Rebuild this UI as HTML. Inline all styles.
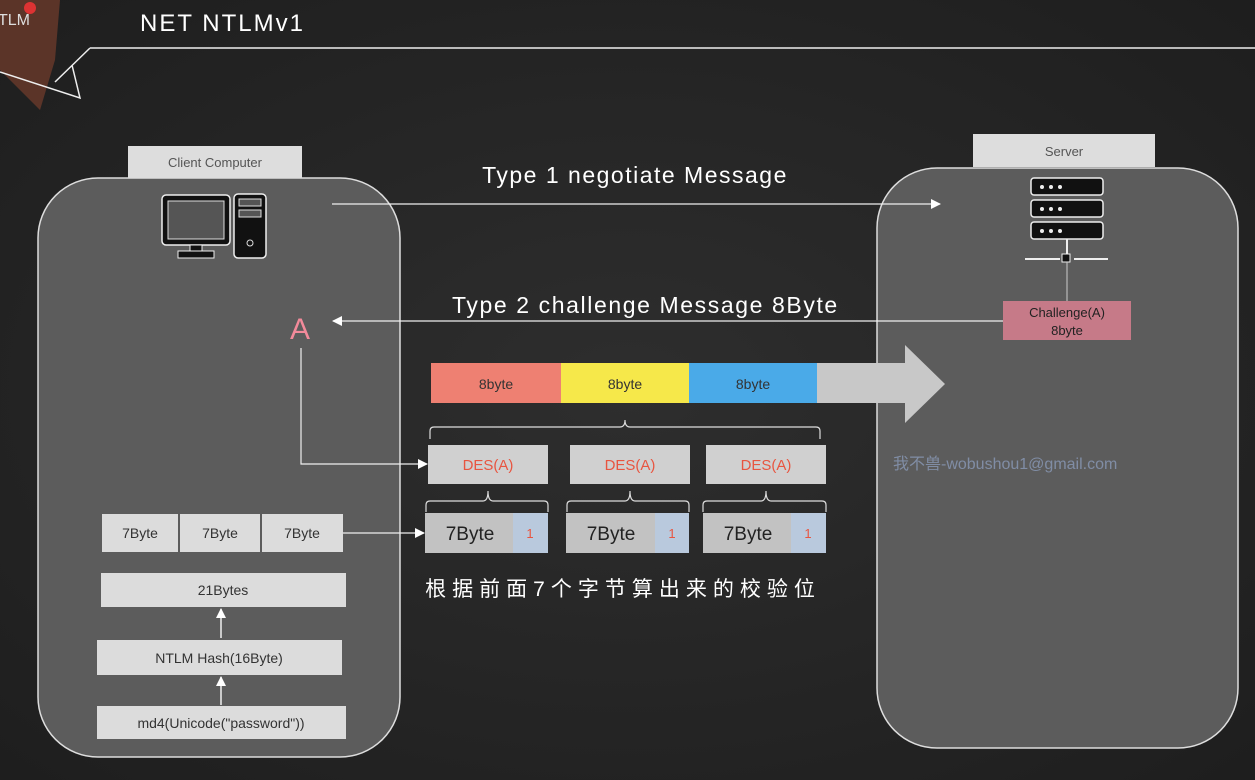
<!DOCTYPE html>
<html><head><meta charset="utf-8"><style>
body{margin:0;width:1255px;height:780px;overflow:hidden;background:#262626;}
svg{display:block}
text{font-family:"Liberation Sans","Noto Sans CJK SC",sans-serif;}
</style></head><body>
<svg width="1255" height="780" viewBox="0 0 1255 780">
<defs>
<radialGradient id="bg" cx="50%" cy="50%" r="70%"><stop offset="0" stop-color="#2e2e2e"/><stop offset="1" stop-color="#1e1e1e"/></radialGradient>
<marker id="ah" markerWidth="10" markerHeight="10" refX="9" refY="5" orient="auto" markerUnits="userSpaceOnUse"><path d="M0,0 L10,5 L0,10 z" fill="#fff"/></marker>
</defs>
<rect width="1255" height="780" fill="url(#bg)"/>
<path d="M0,0 L60,0 L55,60 L40,110 L20,90 L0,70 z" fill="#6a3a2a" opacity="0.8"/>
<circle cx="30" cy="8" r="6" fill="#d33"/>
<text x="-2" y="25" fill="#ddd" font-size="16">TLM</text>
<text x="140" y="31" fill="#fff" font-size="24" letter-spacing="2">NET NTLMv1</text>
<path d="M90,48 L1255,48 M90,48 L55,82 M0,72 L80,98 L72,65" stroke="#eee" stroke-width="1.5" fill="none"/>
<rect x="128" y="146" width="174" height="32" fill="#ddd"/>
<text x="215" y="167" fill="#555" font-size="13" text-anchor="middle">Client Computer</text>
<rect x="38" y="178" width="362" height="579" rx="60" fill="#5c5c5c" stroke="#ddd" stroke-width="1.5"/>
<rect x="973" y="134" width="182" height="33" fill="#ddd"/>
<text x="1064" y="156" fill="#555" font-size="13" text-anchor="middle">Server</text>
<rect x="877" y="168" width="361" height="580" rx="60" fill="#5c5c5c" stroke="#ddd" stroke-width="1.5"/>
<rect x="162" y="195" width="68" height="50" rx="4" fill="#111" stroke="#eee" stroke-width="1.5"/>
<rect x="168" y="201" width="56" height="38" fill="#555" stroke="#ddd"/>
<rect x="190" y="245" width="12" height="8" fill="#111" stroke="#eee"/>
<rect x="178" y="251" width="36" height="7" fill="#111" stroke="#eee"/>
<rect x="234" y="194" width="32" height="64" rx="4" fill="#111" stroke="#eee" stroke-width="1.5"/>
<rect x="239" y="199" width="22" height="7" fill="#555" stroke="#ddd"/>
<rect x="239" y="210" width="22" height="7" fill="#555" stroke="#ddd"/>
<circle cx="250" cy="243" r="3" fill="#111" stroke="#ddd"/>
<g fill="#111" stroke="#eee" stroke-width="1.5">
<rect x="1031" y="178" width="72" height="17" rx="3"/><rect x="1031" y="200" width="72" height="17" rx="3"/><rect x="1031" y="222" width="72" height="17" rx="3"/>
</g>
<g fill="#eee"><circle cx="1042" cy="187" r="2"/><circle cx="1051" cy="187" r="2"/><circle cx="1060" cy="187" r="2"/><circle cx="1042" cy="209" r="2"/><circle cx="1051" cy="209" r="2"/><circle cx="1060" cy="209" r="2"/><circle cx="1042" cy="231" r="2"/><circle cx="1051" cy="231" r="2"/><circle cx="1060" cy="231" r="2"/></g>
<path d="M1067,239 V255 M1025,259 H1060 M1074,259 H1108" stroke="#eee" stroke-width="2"/>
<rect x="1062" y="254" width="8" height="8" fill="#111" stroke="#eee"/>
<path d="M1067,262 V301" stroke="#ccc"/>
<text x="635" y="183" fill="#fff" font-size="23" text-anchor="middle" letter-spacing="1.5">Type 1 negotiate Message</text>
<line x1="332" y1="204" x2="940" y2="204" stroke="#eee" stroke-width="1.2" marker-end="url(#ah)"/>
<text x="452" y="313" fill="#fff" font-size="23" letter-spacing="1.6">Type 2 challenge Message 8Byte</text>
<line x1="1003" y1="321" x2="333" y2="321" stroke="#eee" stroke-width="1.2" marker-end="url(#ah)"/>
<rect x="1003" y="301" width="128" height="39" fill="#c67a88"/>
<text x="1067" y="317" fill="#222" font-size="13" text-anchor="middle">Challenge(A)</text>
<text x="1067" y="335" fill="#222" font-size="13" text-anchor="middle">8byte</text>
<text x="300" y="339" fill="#f28a9a" font-size="30" text-anchor="middle">A</text>
<path d="M301,348 V464 H427" stroke="#eee" stroke-width="1.2" fill="none" marker-end="url(#ah)"/>
<rect x="431" y="363" width="130" height="40" fill="#ee8072"/>
<rect x="561" y="363" width="128" height="40" fill="#f6e84a"/>
<rect x="689" y="363" width="128" height="40" fill="#4aaae8"/>
<path d="M817,363 H905 V345 L945,384 L905,423 V403 H817 z" fill="#c8c8c8"/>
<text x="496" y="389" fill="#333" font-size="14" text-anchor="middle">8byte</text>
<text x="625" y="389" fill="#333" font-size="14" text-anchor="middle">8byte</text>
<text x="753" y="389" fill="#333" font-size="14" text-anchor="middle">8byte</text>
<path d="M430,439 V431 Q430,427 434,427 H620 Q625,427 625,420 Q625,427 630,427 H816 Q820,427 820,431 V439" stroke="#ddd" stroke-width="1.2" fill="none"/>
<g fill="#d0d0d0"><rect x="428" y="445" width="120" height="39"/><rect x="570" y="445" width="120" height="39"/><rect x="706" y="445" width="120" height="39"/></g>
<g fill="#e85540" font-size="15" text-anchor="middle"><text x="488" y="470">DES(A)</text><text x="630" y="470">DES(A)</text><text x="766" y="470">DES(A)</text></g>
<g stroke="#ddd" stroke-width="1.2" fill="none">
<path d="M426,512 V505 Q426,501 430,501 H483 Q488,501 488,491 Q488,501 493,501 H544 Q548,501 548,505 V512"/>
<path d="M567,512 V505 Q567,501 571,501 H625 Q630,501 630,491 Q630,501 635,501 H685 Q689,501 689,505 V512"/>
<path d="M703,512 V505 Q703,501 707,501 H761 Q766,501 766,491 Q766,501 771,501 H822 Q826,501 826,505 V512"/>
</g>
<g fill="#c2c2c2"><rect x="425" y="513" width="88" height="40"/><rect x="566" y="513" width="89" height="40"/><rect x="703" y="513" width="88" height="40"/></g>
<g fill="#b9c9dd"><rect x="513" y="513" width="35" height="40"/><rect x="655" y="513" width="34" height="40"/><rect x="791" y="513" width="35" height="40"/></g>
<g fill="#222" font-size="19" text-anchor="middle"><text x="470" y="540">7Byte</text><text x="611" y="540">7Byte</text><text x="748" y="540">7Byte</text></g>
<g fill="#e85540" font-size="13" text-anchor="middle"><text x="530" y="538">1</text><text x="672" y="538">1</text><text x="808" y="538">1</text></g>
<text x="623" y="596" fill="#fff" font-size="21" text-anchor="middle" letter-spacing="6">根据前面7个字节算出来的校验位</text>
<g fill="#dcdcdc"><rect x="102" y="514" width="76" height="38"/><rect x="180" y="514" width="80" height="38"/><rect x="262" y="514" width="81" height="38"/>
<rect x="101" y="573" width="245" height="34"/><rect x="97" y="640" width="245" height="35"/><rect x="97" y="706" width="249" height="33"/></g>
<g fill="#333" font-size="14" text-anchor="middle"><text x="140" y="538">7Byte</text><text x="220" y="538">7Byte</text><text x="302" y="538">7Byte</text>
<text x="223" y="595">21Bytes</text><text x="219" y="663">NTLM Hash(16Byte)</text><text x="221" y="728">md4(Unicode("password"))</text></g>
<line x1="343" y1="533" x2="424" y2="533" stroke="#eee" stroke-width="1.2" marker-end="url(#ah)"/>
<line x1="221" y1="638" x2="221" y2="609" stroke="#eee" stroke-width="1.5" marker-end="url(#ah)"/>
<line x1="221" y1="705" x2="221" y2="677" stroke="#eee" stroke-width="1.5" marker-end="url(#ah)"/>
<text x="893" y="469" font-size="16" fill="#8a9ab8" opacity="0.8">我不兽-wobushou1@gmail.com</text>
</svg>
</body></html>
